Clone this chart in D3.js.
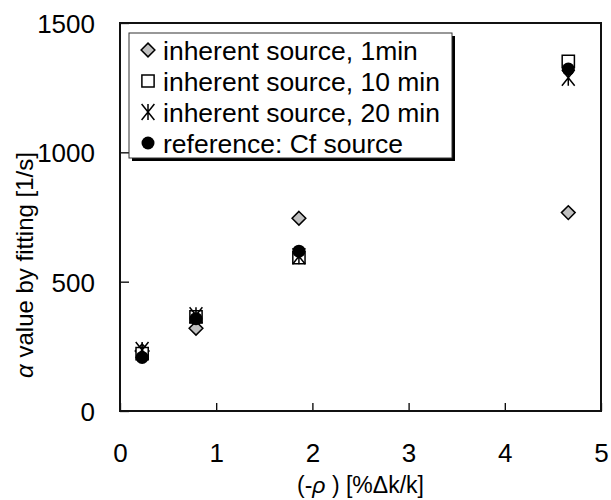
<!DOCTYPE html>
<html>
<head>
<meta charset="utf-8">
<script src="https://cdn.jsdelivr.net/npm/d3@7"></script>
<style>
  body { margin: 0; background: #fff; }
  text { font-family: Arial, "Liberation Sans", sans-serif; fill: #000; }
</style>
</head>
<body>
<div id="chart"></div>
<script>
// data
var xTicks = [0, 1, 2, 3, 4, 5];
var yTicks = [0, 500, 1000, 1500];
var rho = [0.23, 0.79, 1.86, 4.66];
var inherent1min = [232, 320, 745, 767];
var inherent10min = [222, 364, 593, 1352];
var inherent20min = [236, 370, 598, 1288];
var cfSource = [207, 357, 618, 1322];
var seriesNames = ["inherent source, 1min", "inherent source, 10 min", "inherent source, 20 min", "reference: Cf source"];

var margin = {top: 23, right: 10, bottom: 89, left: 120},
    width = 611 - margin.left - margin.right,
    height = 500 - margin.top - margin.bottom;

var svg = d3.select("#chart")
  .append("svg")
    .attr("width", 611)
    .attr("height", 500)
  .append("g")
    .attr("transform", "translate(" + margin.left + "," + margin.top + ")");

var x = d3.scaleLinear().domain([0, 5]).range([0, width]);
var y = d3.scaleLinear().domain([0, 1500]).range([height, 0]);

// axes, ticks pointing inward
var xAxis = svg.append("g")
  .attr("transform", "translate(0," + height + ")")
  .call(d3.axisBottom(x).tickValues(xTicks).tickFormat(d3.format("d"))
    .tickSizeInner(-8).tickSizeOuter(0).tickPadding(33));
var yAxis = svg.append("g")
  .call(d3.axisLeft(y).tickValues(yTicks).tickFormat(d3.format("d"))
    .tickSizeInner(-9).tickSizeOuter(0).tickPadding(25));

[xAxis, yAxis].forEach(function (a) {
  a.select(".domain").remove();
  a.selectAll("line").attr("stroke", "#000").attr("stroke-width", 1.3);
  a.selectAll("text").style("font-size", "26px").attr("fill", "#000");
});
yAxis.selectAll("text").attr("dy", "0.36em");

// plot frame
svg.append("rect")
  .attr("x", 0).attr("y", 0)
  .attr("width", width).attr("height", height)
  .attr("fill", "none")
  .attr("stroke", "#111")
  .attr("stroke-width", 2);

// axis titles
var yTitle = svg.append("text")
  .attr("transform", "translate(-87,242) rotate(-90)")
  .attr("text-anchor", "middle")
  .style("font-size", "24px");
yTitle.append("tspan").style("font-style", "italic").text("α");
yTitle.append("tspan").text(" value by fitting [1/s]");

var xTitle = svg.append("text")
  .attr("x", width / 2)
  .attr("y", height + 82)
  .attr("text-anchor", "middle")
  .style("font-size", "23px");
xTitle.append("tspan").text("(-");
xTitle.append("tspan").style("font-style", "italic").text("ρ");
xTitle.append("tspan").text(" ) [%Δk/k]");

// marker drawing
var diamond = d3.symbol().type(d3.symbolDiamond2).size(120);
var square = d3.symbol().type(d3.symbolSquare2).size(190);
function star(r) {
  var d = r * 0.8;
  return "M0," + (-r) + "L0," + r +
    "M" + (-d) + "," + (-r) + "L" + d + "," + r +
    "M" + d + "," + (-r) + "L" + (-d) + "," + r;
}

function drawMarker(g, kind) {
  if (kind === 0) {
    g.append("path").attr("d", diamond()).attr("fill", "#c0c0c0").attr("stroke", "#000").attr("stroke-width", 1.5);
  } else if (kind === 1) {
    g.append("path").attr("d", square()).attr("fill", "#fff").attr("stroke", "#000").attr("stroke-width", 1.5);
  } else if (kind === 2) {
    g.append("path").attr("d", star(8)).attr("fill", "none").attr("stroke", "#000").attr("stroke-width", 1.5);
  } else {
    g.append("circle").attr("r", 6.5).attr("fill", "#000");
  }
}

var allSeries = [inherent1min, inherent10min, inherent20min, cfSource];
allSeries.forEach(function (vals, k) {
  svg.selectAll(".pt" + k)
    .data(vals)
    .enter()
    .append("g")
      .attr("class", "pt" + k)
      .attr("transform", function (d, i) { return "translate(" + x(rho[i]) + "," + y(d) + ")"; })
      .each(function () { drawMarker(d3.select(this), k); });
});

// legend
var legend = svg.append("g").attr("transform", "translate(9,10)");
legend.append("rect")
  .attr("x", 3).attr("y", 3).attr("width", 323).attr("height", 125)
  .attr("fill", "#000");
legend.append("rect")
  .attr("x", 0).attr("y", 0).attr("width", 323).attr("height", 125)
  .attr("fill", "#fff").attr("stroke", "#333").attr("stroke-width", 1);

seriesNames.forEach(function (name, k) {
  var row = legend.append("g").attr("transform", "translate(19," + (17 + k * 31) + ")");
  drawMarker(row, k);
  row.append("text")
    .attr("x", 15)
    .attr("dy", "0.36em")
    .style("font-size", "26.5px")
    .text(name);
});
</script>
</body>
</html>
